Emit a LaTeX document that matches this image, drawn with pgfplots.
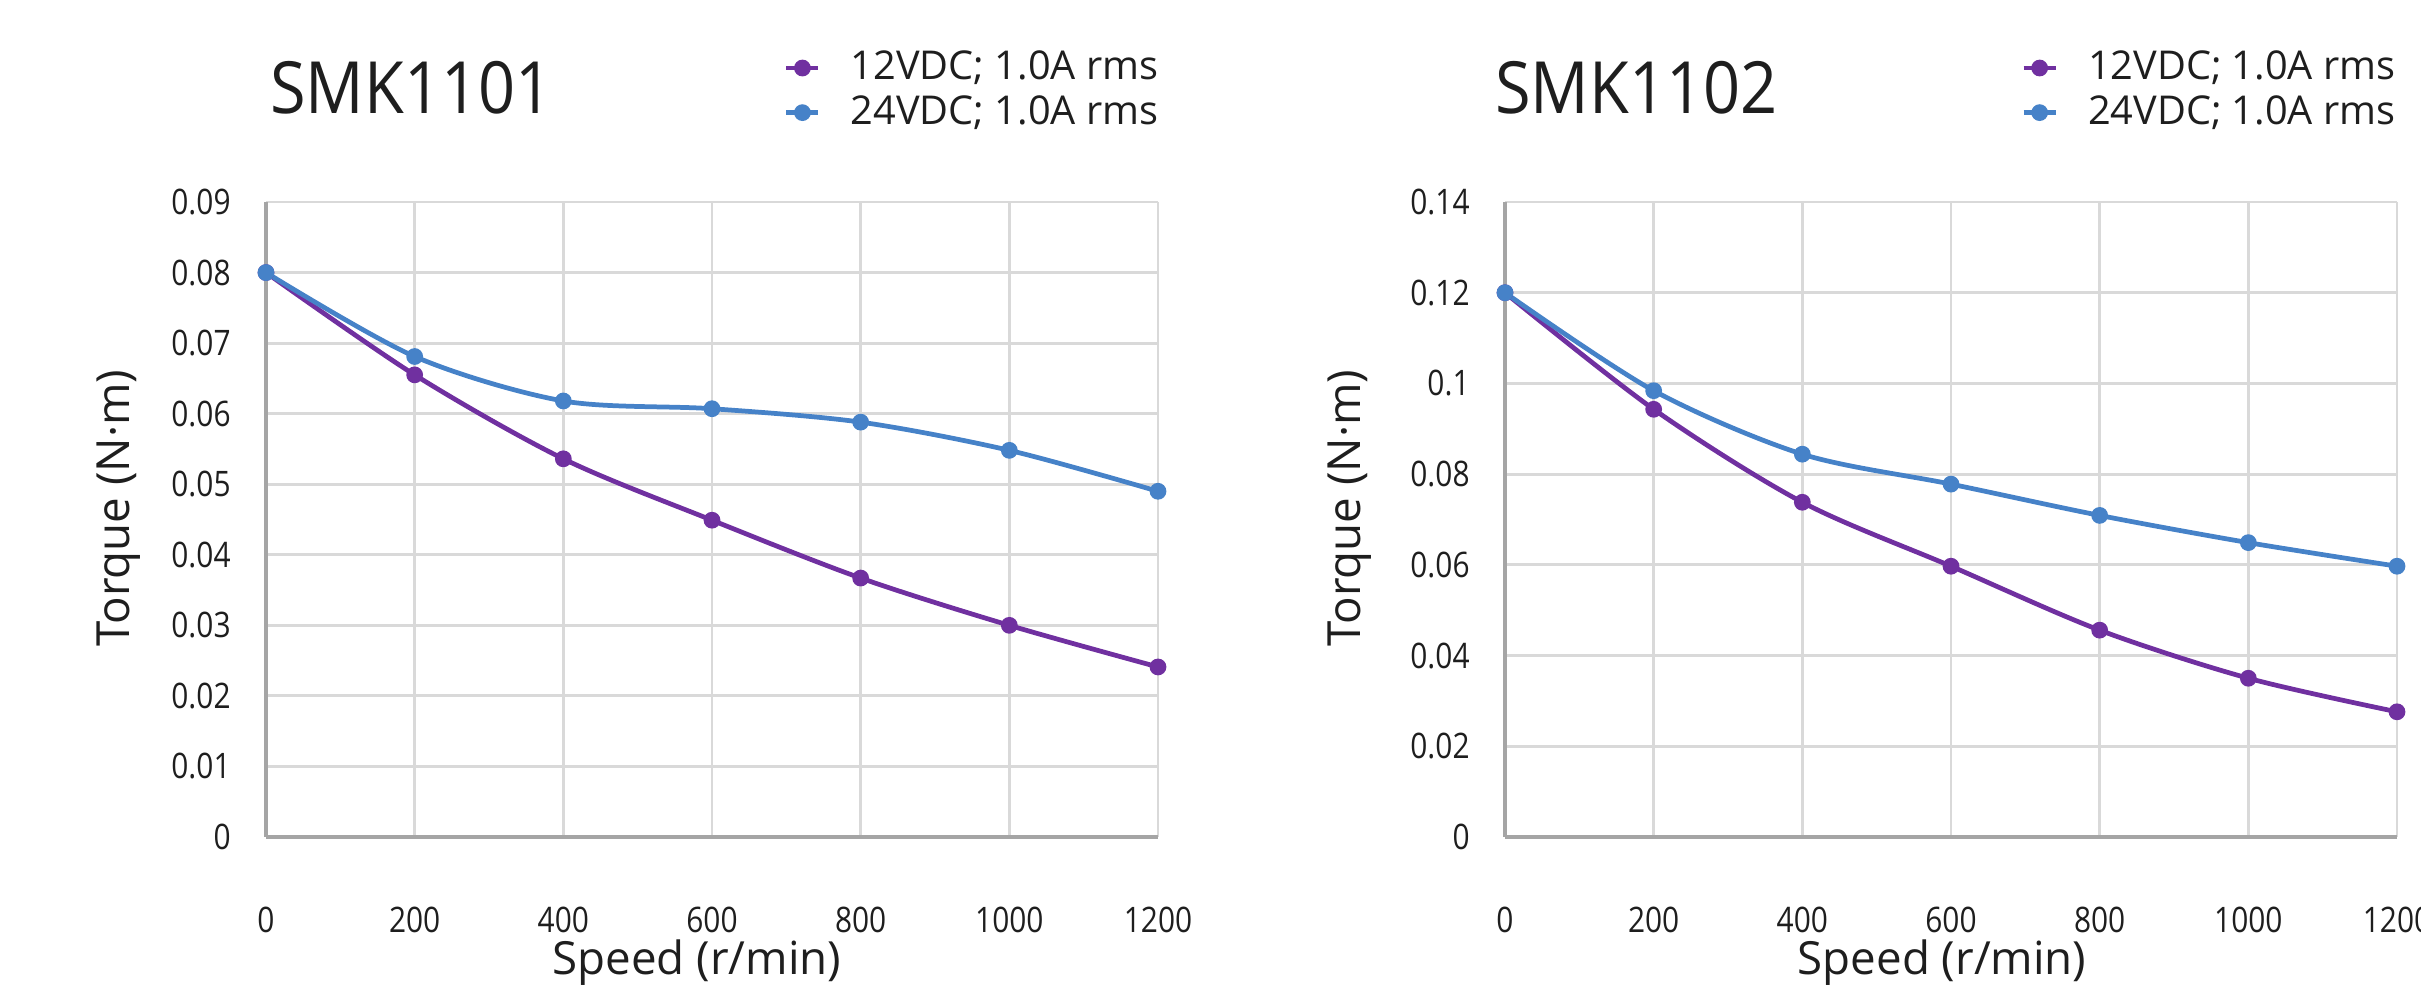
\documentclass[border=0pt]{standalone}
\usepackage{pgfplots}
\pgfplotsset{compat=1.18}
\usepackage{fontspec}
\setmainfont{Open Sans}
\newfontfamily\tickfont{Open Sans}[FakeStretch=0.85]
\newfontfamily\titlefont{Open Sans}[FakeStretch=0.9]
\definecolor{cpurple}{RGB}{112,48,160}
\definecolor{cblue}{RGB}{70,130,200}
\definecolor{gridgray}{RGB}{217,217,217}
\definecolor{axgray}{RGB}{165,165,165}
\definecolor{txt}{RGB}{30,30,30}

\pgfplotstableread{
x a b
0 0.0800 0.0800
200 0.0655 0.0681
400 0.0536 0.0618
600 0.0449 0.0607
800 0.0367 0.0588
1000 0.0300 0.0548
1200 0.0241 0.0490
}\smkA
\pgfplotstableread{
x a b
0 0.1200 0.1200
200 0.0943 0.0984
400 0.0738 0.0844
600 0.0597 0.0778
800 0.0456 0.0709
1000 0.0350 0.0649
1200 0.0276 0.0597
}\smkB

\pgfplotsset{
 mystyle/.style={
  scale only axis, width=89.2mm, height=63.5mm, anchor=south west,
  xmin=0, xmax=1200, xtick={0,200,400,600,800,1000,1200},
  ymin=0,
  grid=major, major grid style={draw=gridgray, line width=0.8pt},
  axis x line=bottom, axis y line=left,
  x axis line style={-, draw=axgray, line width=1.4pt},
  y axis line style={-, draw=axgray, line width=1pt},
  major tick length=0pt,
  tick label style={font=\tickfont\fontsize{10}{12}\selectfont, text=txt},
  /pgf/number format/assume math mode=true,
  /pgf/number format/1000 sep={},
  yticklabel style={/pgf/number format/fixed, /pgf/number format/precision=2, xshift=-2.3mm},
  xticklabel style={yshift=-5.8mm},
  scaled y ticks=false,
  xlabel={Speed (r/min)}, ylabel={Torque (N·m)},
  label style={font=\fontsize{13}{15}\selectfont, text=txt},
  title style={anchor=west, font=\titlefont\fontsize{20.5}{24}\selectfont, text=txt},
  legend style={anchor=north west, draw=none, fill=none, font=\fontsize{11.3}{13}\selectfont, text=txt, row sep=-1pt, inner sep=0pt},
  legend cell align=left,
  legend image code/.code={\draw[mark repeat=2,mark phase=2,#1] plot coordinates {(0cm,0cm) (0.16cm,0cm) (0.32cm,0cm)}; \path (0.55cm,0cm);},
  every axis plot/.append style={line width=1.35pt, smooth, tension=0.5, mark=*, mark size=1.7pt},
 }
}

\begin{document}
\begin{tikzpicture}
\clip (0,0) rectangle (242.1mm,99.3mm);
\path[use as bounding box] (0,0) rectangle (242.1mm,99.3mm);

\begin{axis}[mystyle, at={(26.6mm,15.6mm)},
  ymax=0.09, ytick={0,0.01,0.02,0.03,0.04,0.05,0.06,0.07,0.08,0.09},
  title={SMK1101}, title style={at={(rel axis cs:-0.009,1.146)}},
  xlabel style={at={(rel axis cs:0.483,-0.198)}, anchor=center},
  ylabel style={at={(rel axis cs:-0.165,0.518)}, anchor=center},
  legend style={at={(rel axis cs:0.58,1.25)}}]
\addplot[cpurple] table[x=x,y=a]{\smkA};
\addlegendentry{12VDC; 1.0A rms}
\addplot[cblue] table[x=x,y=b]{\smkA};
\addlegendentry{24VDC; 1.0A rms}
\end{axis}

\begin{axis}[mystyle, at={(150.5mm,15.6mm)},
  ymax=0.14, ytick={0,0.02,0.04,0.06,0.08,0.1,0.12,0.14},
  title={SMK1102}, title style={at={(rel axis cs:-0.025,1.146)}},
  xlabel style={at={(rel axis cs:0.49,-0.198)}, anchor=center},
  ylabel style={at={(rel axis cs:-0.174,0.518)}, anchor=center},
  legend style={at={(rel axis cs:0.578,1.25)}}]
\addplot[cpurple] table[x=x,y=a]{\smkB};
\addlegendentry{12VDC; 1.0A rms}
\addplot[cblue] table[x=x,y=b]{\smkB};
\addlegendentry{24VDC; 1.0A rms}
\end{axis}
\end{tikzpicture}
\end{document}
